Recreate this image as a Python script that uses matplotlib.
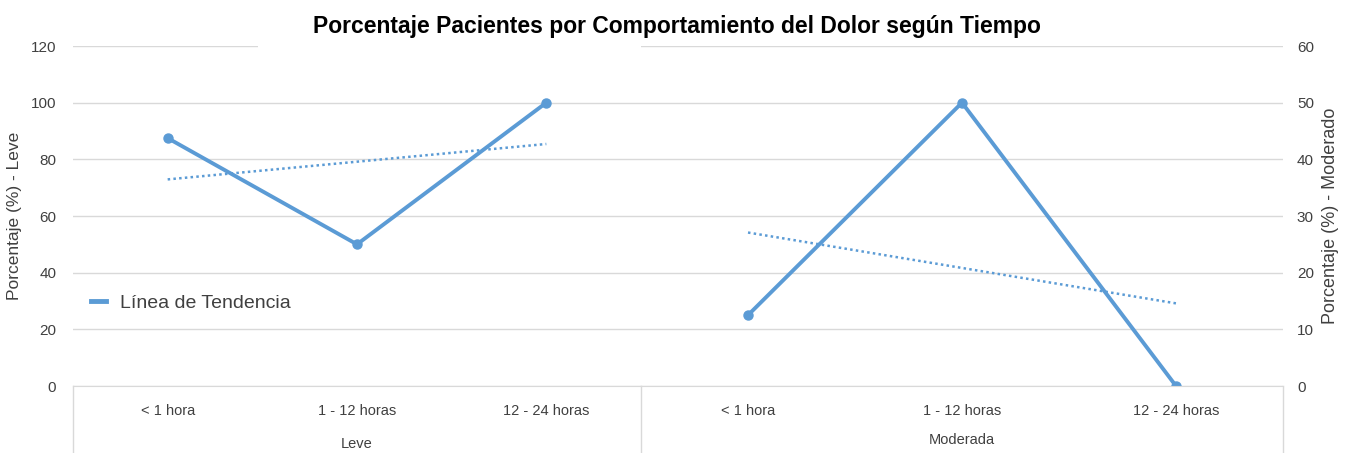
import matplotlib.pyplot as plt
from matplotlib.lines import Line2D
from matplotlib.patches import Rectangle
import numpy as np

plt.rcParams['font.family'] = ['Liberation Sans', 'DejaVu Sans']

# data
horas = ["< 1 hora", "1 - 12 horas", "12 - 24 horas"]
leve = [87.5, 50, 100]        # left axis
moderada = [12.5, 50, 0]      # right axis

blue = "#5B9BD5"
grid = "#D9D9D9"
txt = "#404040"

fig = plt.figure(figsize=(13.57, 4.53), dpi=100)
ax1 = fig.add_axes([73 / 1357, 1 - 386 / 453, 568 / 1357, 340 / 453])
ax2 = fig.add_axes([641 / 1357, 1 - 386 / 453, 642 / 1357, 340 / 453])

x = np.arange(len(horas))


def style(ax, ymax, step, side):
    ax.set_xlim(-0.5, 2.5)
    ax.set_ylim(0, ymax)
    ax.set_yticks(np.arange(0, ymax + 1, step))
    ax.set_xticks(x)
    ax.set_xticklabels(horas, fontsize=10.5, color=txt)
    ax.grid(axis="y", color=grid, lw=1)
    ax.set_axisbelow(True)
    for s in ax.spines.values():
        s.set_visible(False)
    ax.spines["bottom"].set_visible(True)
    ax.spines["bottom"].set_color(grid)
    ax.tick_params(axis="both", length=0, labelsize=11, labelcolor=txt)
    ax.tick_params(axis="x", pad=13, labelsize=10.5)
    if side == "right":
        ax.yaxis.tick_right()
        ax.yaxis.set_label_position("right")
        ax.tick_params(axis="y", pad=10)
    else:
        ax.tick_params(axis="y", pad=12)
    ax.patch.set_alpha(0)


style(ax1, 120, 20, "left")
style(ax2, 60, 10, "right")

# separators of the category axis
low = -(453 - 386) / 340
for ax, xs in ((ax1, [0, 1]), (ax2, [1])):
    for xv in xs:
        ax.add_line(Line2D([xv, xv], [0, low], transform=ax.transAxes,
                           color=grid, lw=1, clip_on=False))

ax1.text(0.5, -0.17, "Leve", transform=ax1.transAxes, ha="center", va="center",
         fontsize=10.5, color=txt)
ax2.text(0.5, -0.16, "Moderada", transform=ax2.transAxes, ha="center", va="center",
         fontsize=10.5, color=txt)

# series
ax1.plot(x, leve, color=blue, lw=2.8, marker="o", ms=6.5, solid_capstyle="round")
ax2.plot(x, moderada, color=blue, lw=2.8, marker="o", ms=6.5, solid_capstyle="round")

# linear trend lines
for ax, vals in ((ax1, leve), (ax2, moderada)):
    m, b = np.polyfit(x, vals, 1)
    ax.plot(x, m * x + b, color=blue, lw=1.8, ls=(0, (1, 1.3)))

ax1.set_ylabel("Porcentaje (%) - Leve", fontsize=12.5, color=txt, labelpad=6)
ax2.set_ylabel("Porcentaje (%) - Moderado", fontsize=13, color=txt, labelpad=6)

ax1.legend([Line2D([], [], color=blue, lw=3.5)], ["Línea de Tendencia"],
           loc="center left", bbox_to_anchor=(0.0, 0.244), frameon=False,
           handlelength=0.8, handletextpad=0.7, fontsize=14, labelcolor=txt)

# white area behind the title that hides part of the top gridline
fig.add_artist(Rectangle((258 / 1357, 1 - 52 / 453), (641 - 258) / 1357, 44 / 453,
                         transform=fig.transFigure, facecolor="white",
                         edgecolor="none", zorder=3))

fig.text(0.4985, 0.942, "Porcentaje Pacientes por Comportamiento del Dolor según Tiempo",
         ha="center", va="center", fontsize=16.5, fontweight="bold", color="black",
         zorder=4)

fig.savefig("out.png", dpi=100, facecolor="white")
